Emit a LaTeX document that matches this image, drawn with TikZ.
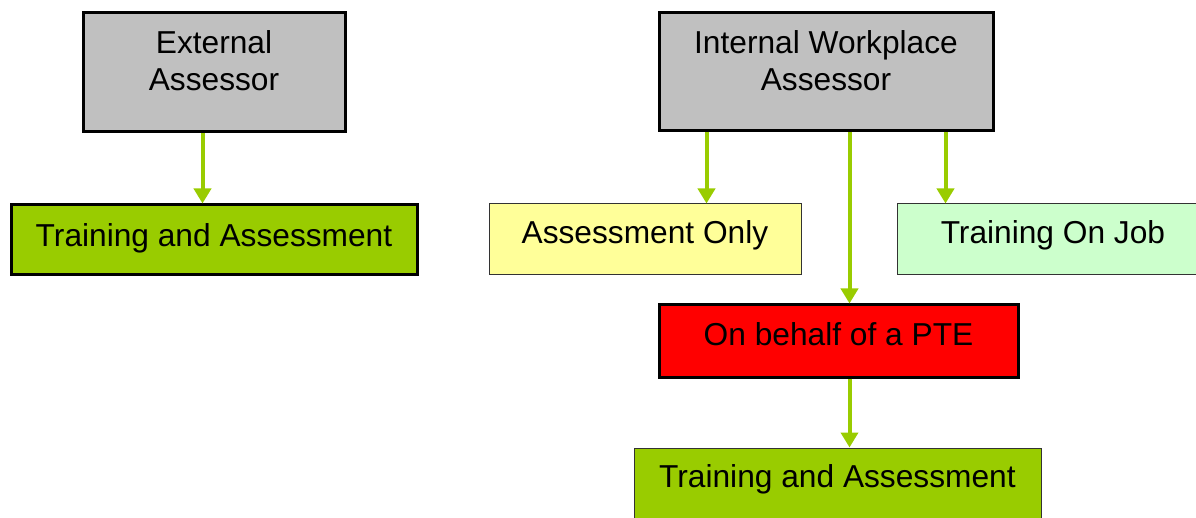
\documentclass[tikz,border=0pt]{standalone}
\usepackage{fontspec}
\newfontfamily\boxfont{Liberation Sans}
\usetikzlibrary{positioning}
\usetikzlibrary{arrows.meta}

\definecolor{boxgray}{HTML}{C0C0C0}
\definecolor{arrowgreen}{HTML}{99CC00}
\definecolor{boxyellow}{HTML}{FFFF99}
\definecolor{boxmint}{HTML}{CCFFCC}
\definecolor{boxred}{HTML}{FF0000}

\begin{document}
\begin{tikzpicture}[x=1pt, y=-1pt]

\tikzset{role box/.style={
		draw=black, line width=3pt,
		inner sep=0pt, anchor=north west, align=center,
		font={\boxfont\fontsize{31.7}{37}\selectfont},
		minimum width=#1
	},
	thin box/.style={role box=#1, draw=black!80, line width=0.9pt},
	flow arrow/.style={draw=arrowgreen, line width=4pt,
		-{Triangle[width=17pt,length=15pt]}}
}
\useasboundingbox (0,0) rectangle (1196,518);

% assessors
\node[role box=262pt, fill=boxgray, text height=77.5pt, text depth=41.5pt]
	(ext) at (81.5,11.5) {External\\Assessor};
\node[role box=334pt, fill=boxgray, text height=77.5pt, text depth=40.5pt]
	(iwa) at (657.5,11.5) {Internal Workplace\\Assessor};

% pathways
\node[role box=406pt, fill=arrowgreen, text height=41.5pt, text depth=28.5pt]
	(ta1) at (9.5,203.5) {Training and Assessment};
\node[thin box=312pt, fill=boxyellow, text height=39.5pt, text depth=31.5pt]
	(ao) at (488.5,203.5) {Assessment Only};
\node[thin box=312pt, fill=boxmint, text height=39.5pt, text depth=31.5pt]
	(toj) at (896.5,203.5) {Training On Job};
\node[role box=359pt, fill=boxred, text height=40.5pt, text depth=31.5pt]
	(pte) at (657.5,303.5) {On behalf of a PTE};
\node[thin box=407pt, fill=arrowgreen, text height=39.5pt, text depth=43pt]
	(ta2) at (633.5,447.5) {Training and Assessment};

% arrows
\coordinate (e1) at ([xshift=-11.5pt]ext.south);
\coordinate (i1) at ([xshift=-119.5pt]iwa.south);
\coordinate (i2) at ([xshift=23.5pt]iwa.south);
\coordinate (i3) at ([xshift=119.5pt]iwa.south);
\coordinate (p1) at ([xshift=11pt]pte.south);

\draw[flow arrow] (e1) -- (e1 |- ta1.north);
\draw[flow arrow] (i1) -- (i1 |- ao.north);
\draw[flow arrow] (i2) -- (i2 |- pte.north);
\draw[flow arrow] (i3) -- (i3 |- toj.north);
\draw[flow arrow] (p1) -- (p1 |- ta2.north);
\end{tikzpicture}
\end{document}
